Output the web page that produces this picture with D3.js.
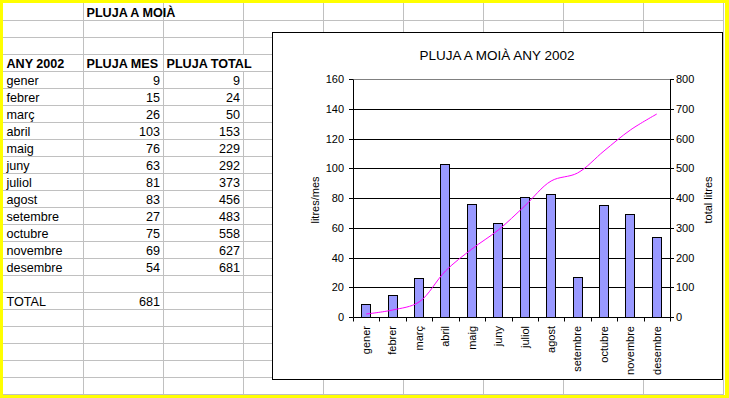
<!DOCTYPE html>
<html>
<head>
<meta charset="utf-8">
<script src="https://cdn.jsdelivr.net/npm/d3@7"></script>
<style>
    body { margin: 0; background: #fff; }
    svg { display: block; font-family: "Liberation Sans", Arial, sans-serif; }
    .cell { font-size: 12.6px; fill: #000; }
    .bold { font-weight: bold; }
    .axis text { font-size: 11px; fill: #000; font-family: "Liberation Sans", Arial, sans-serif; }
    .axis path, .axis line { stroke: #000; }
</style>
</head>
<body>
<script>
// Pluja a Moià, any 2002: full de càlcul + gràfic

// dades
const MONTHS = ['gener', 'febrer', 'març', 'abril', 'maig', 'juny', 'juliol', 'agost',
    'setembre', 'octubre', 'novembre', 'desembre'];
const PLUJA_MES = [9, 15, 26, 103, 76, 63, 81, 83, 27, 75, 69, 54];
const PLUJA_TOTAL = [9, 24, 50, 153, 229, 292, 373, 456, 483, 558, 627, 681];
const TOTAL = 681;
const LEFT_TICKS = [0, 20, 40, 60, 80, 100, 120, 140, 160];
const RIGHT_TICKS = [0, 100, 200, 300, 400, 500, 600, 700, 800];

const SHEET_TITLE = 'PLUJA A MOIÀ';
const HEADERS = ['ANY 2002', 'PLUJA MES', 'PLUJA TOTAL'];
const CHART_TITLE = 'PLUJA A MOIÀ ANY 2002';
const LEFT_TITLE = 'litres/mes';
const RIGHT_TITLE = 'total litres';

// mides de la pàgina
const W = 729, H = 398;
const COL_W = 80, ROW_H = 17, ORIGIN = 3;
const N_COLS = 9, N_ROWS = 23;

const svg = d3.select('body').append('svg').attr('width', W).attr('height', H);

// vora groga + fons blanc
svg.append('rect').attr('width', W).attr('height', H).attr('fill', '#ffff00');
svg.append('rect').attr('x', ORIGIN).attr('y', ORIGIN)
    .attr('width', 722).attr('height', 392).attr('fill', '#fff');

// quadrícula del full
const colX = i => ORIGIN + COL_W * i;
const rowY = i => ORIGIN + ROW_H * i;

svg.append('g').selectAll('line').data(d3.range(1, N_COLS + 1)).enter().append('line')
    .attr('x1', d => colX(d) + 0.5).attr('x2', d => colX(d) + 0.5)
    .attr('y1', ORIGIN).attr('y2', rowY(N_ROWS) + 0.5)
    .attr('stroke', '#c0c0c0');
svg.append('g').selectAll('line').data(d3.range(1, N_ROWS + 1)).enter().append('line')
    .attr('y1', d => rowY(d) + 0.5).attr('y2', d => rowY(d) + 0.5)
    .attr('x1', ORIGIN).attr('x2', colX(N_COLS) + 1)
    .attr('stroke', '#c0c0c0');

// text que desborda la cel·la (PLUJA TOTAL) tapa la línia
svg.append('rect').attr('x', colX(3)).attr('y', rowY(3) + 1)
    .attr('width', 14).attr('height', ROW_H - 1).attr('fill', '#fff');

const cells = svg.append('g');

function cellText(col, row, txt, opts) {
    opts = opts || {};
    const t = cells.append('text').attr('class', 'cell' + (opts.bold ? ' bold' : ''))
        .attr('y', rowY(row) + 14)
        .text(txt);
    if (opts.right) {
        t.attr('x', colX(col + 1) - 3).attr('text-anchor', 'end');
    } else {
        t.attr('x', colX(col) + 3.5);
    }
}

cellText(1, 0, SHEET_TITLE, {bold: true});
HEADERS.forEach((h, i) => cellText(i, 3, h, {bold: true}));
MONTHS.forEach((m, i) => {
    cellText(0, 4 + i, m);
    cellText(1, 4 + i, PLUJA_MES[i], {right: true});
    cellText(2, 4 + i, PLUJA_TOTAL[i], {right: true});
});
cellText(0, 17, 'TOTAL');
cellText(1, 17, TOTAL, {right: true});

// gràfic
const box = {x: 272, y: 32, w: 450, h: 347};
svg.append('rect').attr('x', box.x + 0.5).attr('y', box.y + 0.5)
    .attr('width', box.w).attr('height', box.h)
    .attr('fill', '#fff').attr('stroke', '#000');

svg.append('text').attr('x', box.x + box.w / 2).attr('y', 60)
    .attr('text-anchor', 'middle').style('font-size', '13.5px')
    .text(CHART_TITLE);

const plot = {left: 353, right: 670, top: 79, bottom: 317};

const xScale = d3.scaleBand().domain(MONTHS).range([plot.left, plot.right]);
const yLeft = d3.scaleLinear().domain([0, 160]).rangeRound([plot.bottom, plot.top]);
const yRight = d3.scaleLinear().domain([0, 800]).rangeRound([plot.bottom, plot.top]);

// línies de divisió
const chart = svg.append('g');
chart.selectAll('.grid').data(LEFT_TICKS.filter(d => d > 0 && d < 160)).enter().append('line')
    .attr('class', 'grid')
    .attr('x1', plot.left).attr('x2', plot.right)
    .attr('y1', d => yLeft(d) + 0.5).attr('y2', d => yLeft(d) + 0.5)
    .attr('stroke', '#000');
chart.append('line')
    .attr('x1', plot.left).attr('x2', plot.right)
    .attr('y1', yLeft(160) + 0.5).attr('y2', yLeft(160) + 0.5)
    .attr('stroke', '#808080');

// barres (pluja mes)
const bw = xScale.bandwidth();
const barW = 10;
chart.selectAll('.bar').data(MONTHS).enter().append('rect')
    .attr('class', 'bar')
    .attr('x', d => Math.round(xScale(d) + (bw - barW) / 2) + 0.5)
    .attr('y', (d, i) => yLeft(PLUJA_MES[i]) + 0.5)
    .attr('width', barW - 1)
    .attr('height', (d, i) => yLeft(0) - yLeft(PLUJA_MES[i]))
    .attr('fill', '#9999ff')
    .attr('stroke', '#000');

// línia (pluja acumulada)
const line = d3.line()
    .x((d, i) => xScale(MONTHS[i]) + bw / 2)
    .y(d => yRight(d))
    .curve(d3.curveCatmullRom);
chart.append('path').datum(PLUJA_TOTAL)
    .attr('d', line)
    .attr('fill', 'none')
    .attr('stroke', '#ff00ff')
    .attr('stroke-width', 1);

// eixos
chart.append('g').attr('class', 'axis')
    .attr('transform', 'translate(' + plot.left + ',0)')
    .call(d3.axisLeft(yLeft).tickValues(LEFT_TICKS).tickSize(4).tickSizeOuter(0).tickPadding(5));

chart.append('g').attr('class', 'axis')
    .attr('transform', 'translate(' + plot.right + ',0)')
    .call(d3.axisRight(yRight).tickValues(RIGHT_TICKS).tickSize(4).tickSizeOuter(0).tickPadding(2));

const xAxis = chart.append('g').attr('class', 'axis')
    .attr('transform', 'translate(0,' + plot.bottom + ')')
    .call(d3.axisBottom(xScale).tickSize(0).tickSizeOuter(0));
xAxis.selectAll('text')
    .attr('transform', 'rotate(-90)')
    .attr('x', -9).attr('y', 0).attr('dy', '0.35em')
    .style('text-anchor', 'end');

// marques entre categories
chart.selectAll('.xtick').data(MONTHS.concat(['_end'])).enter().append('line')
    .attr('class', 'xtick')
    .attr('x1', (d, i) => Math.round(plot.left + i * xScale.step()) + 0.5)
    .attr('x2', (d, i) => Math.round(plot.left + i * xScale.step()) + 0.5)
    .attr('y1', plot.bottom + 0.5).attr('y2', plot.bottom + 4.5)
    .attr('stroke', '#000');

// títols dels eixos
svg.append('text').attr('transform', 'translate(319,200) rotate(-90)')
    .attr('text-anchor', 'middle').style('font-size', '11px')
    .text(LEFT_TITLE);
svg.append('text').attr('transform', 'translate(712,200) rotate(-90)')
    .attr('text-anchor', 'middle').style('font-size', '11px')
    .text(RIGHT_TITLE);
</script>
</body>
</html>
